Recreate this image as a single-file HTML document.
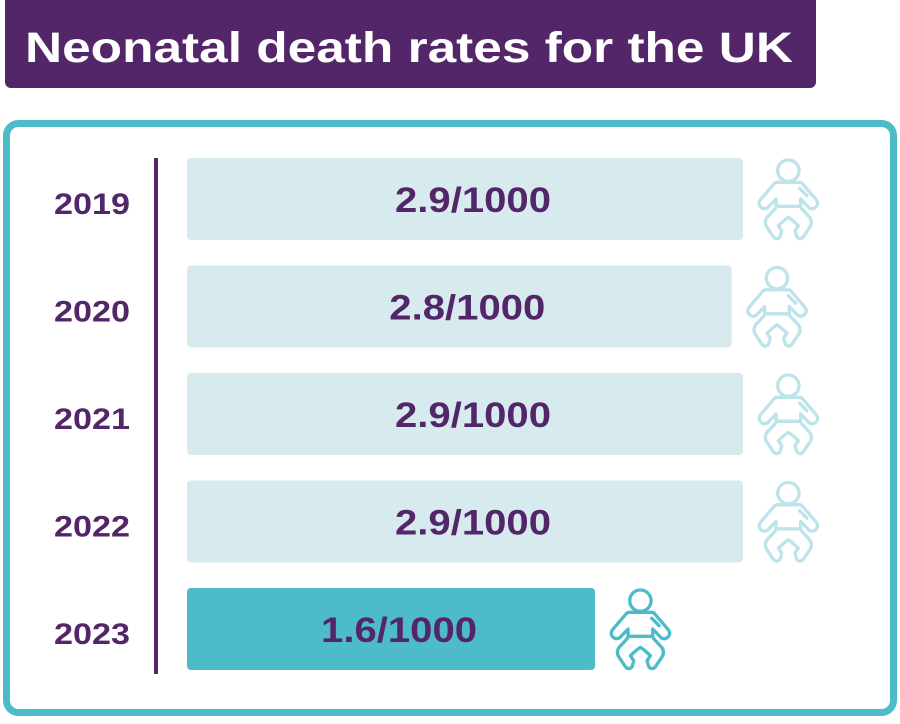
<!DOCTYPE html>
<html><head><meta charset="utf-8"><style>
body{margin:0;width:900px;height:719px;background:#fff;overflow:hidden;font-family:"Liberation Sans",sans-serif}
</style></head><body>
<svg width="900" height="719">
<rect x="5" y="-10" width="811" height="98" rx="6" fill="#522669"/>
<text x="25" y="62" fill="#fff" font-size="43" font-weight="bold" textLength="768" lengthAdjust="spacingAndGlyphs">Neonatal death rates for the UK</text>
<rect x="6.5" y="123.5" width="887" height="589" rx="12" fill="none" stroke="#4ebbc9" stroke-width="7"/>
<line x1="156" y1="158" x2="156" y2="674" stroke="#522669" stroke-width="4"/>
<defs>
<g id="baby" fill="none" stroke-width="10" stroke-linejoin="round" stroke-linecap="round">
<circle cx="142" cy="65" r="32"/>
<path d="M105,172 L105,150 L80,176 Q65,185 55,168 Q52,158 62,148 L98,106 Q102,100 110,100 L174,100 Q182,100 186,106 L222,148 Q232,158 229,168 Q219,185 204,176 L179,150 L179,172 Z"/>
<path d="M176,118 L198,140"/>
<path d="M103,178 L78,205 Q68,220 78,235 L97,263 Q107,275 117,263 L122,245 L112,230 L132,212 L142,205 L152,212 L172,230 L162,245 L167,263 Q177,275 187,263 L206,235 Q216,220 206,205 L181,178"/>
</g>
</defs>
<g id="bars"></g>
</svg>
<script>
const years=["2019","2020","2021","2022","2023"];
const rates=[2.9,2.8,2.9,2.9,1.6];
const labels=["2.9/1000","2.8/1000","2.9/1000","2.9/1000","1.6/1000"];
const highlight=[false,false,false,false,true];
const NS="http://www.w3.org/2000/svg";
const g=document.getElementById('bars');
function xw(v){return 226+113.8*v;}
function yc(i){return 199+107.5*i;}
function mk(t,a){const e=document.createElementNS(NS,t);for(const k in a)e.setAttribute(k,a[k]);g.appendChild(e);return e;}
years.forEach((yr,i)=>{
 const w=xw(rates[i]),cy=yc(i),h=highlight[i];
 const r=mk('rect',{x:187,y:cy-41,width:w,height:82,rx:4,fill:h?'#4ebbc9':'#d7ebef'});
 
 
 const t=mk('text',{x:195+w/2,y:cy+13,'text-anchor':'middle','font-size':35,'font-weight':'bold',fill:'#522669',textLength:156,lengthAdjust:'spacingAndGlyphs'});
 t.textContent=labels[i];
 
 
 const y=mk('text',{x:92,y:cy+15,'text-anchor':'middle','font-size':30,'font-weight':'bold',fill:'#522669',textLength:76,lengthAdjust:'spacingAndGlyphs'});
 y.textContent=yr;
 
 
 const u=mk('use',{href:'#baby',transform:`translate(${187+w-2},${cy-50}) scale(0.3333)`,stroke:h?'#4ebbc9':'#bfe3ea'});
 
 
});
</script>
</body></html>
